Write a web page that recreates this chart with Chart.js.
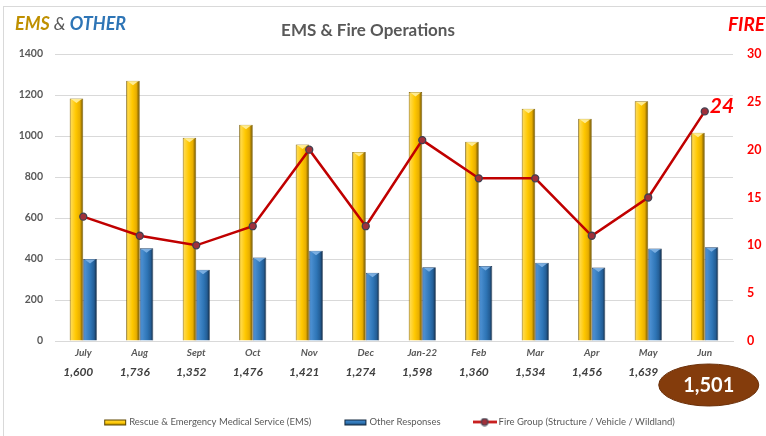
<!DOCTYPE html>
<html><head><meta charset="utf-8">
<script src="https://cdn.jsdelivr.net/npm/chart.js@4"></script>
<style>html,body{margin:0;padding:0;background:#fff;overflow:hidden}#wrap{width:766px;height:436px;position:relative}</style>
</head><body><div id="wrap"><canvas id="c" width="766" height="436"></canvas></div>
<script>
const months = ['July','Aug','Sept','Oct','Nov','Dec','Jan-22','Feb','Mar','Apr','May','Jun'];
const emsValues = [1183,1270,992,1055,959,922,1215,972,1133,1084,1170,1016];
const otherValues = [400,452,348,407,440,333,360,366,382,358,451,457];
const fireValues = [13,11,10,12,20,12,21,17,17,11,15,24];
const totalLabels = ['1,600','1,736','1,352','1,476','1,421','1,274','1,598','1,360','1,534','1,456','1,639','1,501'];
const seriesNames = ['Rescue & Emergency Medical Service (EMS)','Other Responses','Fire Group (Structure / Vehicle / Wildland)'];
const highlightTotal = '1,501';
const highlightFire = '24';

const FONT = 'Lato, "Open Sans", sans-serif';
const goldStops = [[0,'#B88A00'],[0.12,'#FFD94A'],[0.45,'#FFC800'],[0.75,'#E8AE00'],[1,'#5E4700']];
const blueStops = [[0,'#3A78B8'],[0.15,'#4A8ED0'],[0.55,'#2E75B6'],[0.8,'#245E96'],[1,'#13283F']];
const CAT_PCT = 0.48;

function barGrad(ctx, isEms, stops) {
  const chart = ctx.chart, xs = chart.scales.x;
  if (!xs || ctx.dataIndex == null || !isFinite(xs.width)) return stops[2][1];
  const c = xs.getPixelForValue(ctx.dataIndex);
  const w = xs.width / months.length * CAT_PCT / 2;
  const x0 = isEms ? c - w : c;
  const g = chart.ctx.createLinearGradient(x0, 0, x0 + w, 0);
  stops.forEach(s => g.addColorStop(s[0], s[1]));
  return g;
}

function makeIcon(kind) {
  const cv = document.createElement('canvas');
  cv.width = 24; cv.height = 9;
  const c = cv.getContext('2d');
  if (kind === 'line') {
    c.strokeStyle = '#C00000'; c.lineWidth = 2.5;
    c.beginPath(); c.moveTo(0, 4.5); c.lineTo(24, 4.5); c.stroke();
    c.fillStyle = '#A0303A'; c.strokeStyle = '#404050'; c.lineWidth = 1.2;
    c.beginPath(); c.arc(12, 4.5, 3.3, 0, Math.PI * 2); c.fill(); c.stroke();
  } else {
    const stops = kind === 'ems' ? goldStops : blueStops;
    const g = c.createLinearGradient(0, 2, 0, 8);
    g.addColorStop(0, stops[1][1]); g.addColorStop(0.6, stops[2][1]); g.addColorStop(1, stops[4][1]);
    c.fillStyle = g; c.fillRect(1, 2, 22, 6);
    c.strokeStyle = stops[4][1]; c.lineWidth = 1; c.strokeRect(1.5, 2.5, 21, 5);
  }
  return cv;
}

const extras = {
  id: 'extras',
  afterDatasetsDraw(chart) {
    const ctx = chart.ctx;
    [0, 1].forEach(di => {
      const meta = chart.getDatasetMeta(di);
      meta.data.forEach(el => {
        const hw = el.width / 2;
        ctx.save();
        ctx.fillStyle = di === 0 ? 'rgba(255,240,160,0.9)' : 'rgba(130,180,230,0.9)';
        ctx.beginPath();
        ctx.moveTo(el.x - hw + 1.5, el.y + 0.5);
        ctx.lineTo(el.x + hw - 1.5, el.y + 0.5);
        ctx.lineTo(el.x, el.y + 4.5);
        ctx.closePath(); ctx.fill();
        ctx.restore();
      });
    });
  },
  afterDraw(chart) {
    const ctx = chart.ctx;
    ctx.save();
    ctx.strokeStyle = '#d9d9d9'; ctx.lineWidth = 1;
    ctx.strokeRect(3.5, 6.5, 800, 500);
    ctx.textBaseline = 'middle';
    ctx.font = 'bold 17px ' + FONT; ctx.fillStyle = '#595959'; ctx.textAlign = 'center';
    ctx.fillText('EMS & Fire Operations', 368, 31);
    ctx.textAlign = 'left';
    ctx.font = 'italic bold 18px ' + FONT;
    let x = 15;
    ctx.fillStyle = '#BF9000'; ctx.fillText('EMS', x, 24); x += ctx.measureText('EMS ').width;
    ctx.font = 'italic 18px ' + FONT;
    ctx.fillStyle = '#595959'; ctx.fillText('&', x, 24); x += ctx.measureText('& ').width;
    ctx.font = 'italic bold 18px ' + FONT;
    ctx.fillStyle = '#2E75B6'; ctx.fillText('OTHER', x, 24);
    ctx.fillStyle = '#FF0000'; ctx.font = 'italic bold 19px ' + FONT;
    ctx.fillText('FIRE', 728, 25);
    const xs = chart.scales.x, y1 = chart.scales.y1;
    const li = fireValues.length - 1;
    const px = xs.getPixelForValue(li), py = y1.getPixelForValue(fireValues[li]);
    ctx.font = 'italic bold 21px ' + FONT;
    ctx.fillText(highlightFire, px + 5, py - 5);
    const ox = px + 4, oy = 385;
    ctx.fillStyle = '#843C0C';
    ctx.beginPath(); ctx.ellipse(ox, oy, 50, 21, 0, 0, Math.PI * 2); ctx.fill();
    ctx.strokeStyle = '#6b300a'; ctx.lineWidth = 1; ctx.stroke();
    ctx.fillStyle = '#ffffff'; ctx.textAlign = 'center';
    ctx.font = 'bold 20px ' + FONT;
    ctx.fillText(highlightTotal, ox, oy + 1);
    const icons = [makeIcon('ems'), makeIcon('other'), makeIcon('line')];
    ctx.font = '9.5px ' + FONT; ctx.textAlign = 'left';
    const gap = 32, iconW = 24, tgap = 2;
    const widths = chart.data.datasets.map(d => iconW + tgap + ctx.measureText(d.label).width);
    const total = widths.reduce((a, b) => a + b, 0) + gap * (widths.length - 1);
    let lx = 389 - total / 2;
    const ly = 422;
    chart.data.datasets.forEach((d, i) => {
      ctx.drawImage(icons[i], lx, ly - 4.5);
      ctx.fillStyle = '#595959';
      ctx.fillText(d.label, lx + iconW + tgap, ly);
      lx += widths[i] + gap;
    });
    ctx.restore();
  }
};

new Chart(document.getElementById('c'), {
  data: {
    labels: months,
    datasets: [
      { type: 'bar', label: seriesNames[0], data: emsValues, yAxisID: 'y', order: 1,
        backgroundColor: c => barGrad(c, true, goldStops), borderColor: '#7A5C00', borderWidth: 0.8 },
      { type: 'bar', label: seriesNames[1], data: otherValues, yAxisID: 'y', order: 1,
        backgroundColor: c => barGrad(c, false, blueStops), borderColor: '#1B3350', borderWidth: 0.8 },
      { type: 'line', label: seriesNames[2], data: fireValues, yAxisID: 'y1', order: 0,
        borderColor: '#C00000', borderWidth: 2.5, pointRadius: 3.5, pointBackgroundColor: '#A0303A',
        pointBorderColor: '#404050', pointBorderWidth: 1.3, tension: 0, fill: false }
    ]
  },
  options: {
    responsive: false, animation: false, devicePixelRatio: 1,
    layout: { padding: { top: 54, left: 0, right: 0, bottom: 0 } },
    datasets: { bar: { categoryPercentage: CAT_PCT, barPercentage: 1.0 } },
    plugins: { legend: { display: false }, tooltip: { enabled: false }, title: { display: false } },
    scales: {
      x: {
        type: 'category', offset: true,
        grid: { display: false, drawTicks: false },
        border: { display: true, color: '#d9d9d9' },
        ticks: { padding: 6, color: '#595959', font: { family: FONT, size: 10, style: 'italic', weight: 'bold' }, maxRotation: 0, autoSkip: false },
        afterFit: s => { s.height = 20; }
      },
      x2: {
        type: 'category', position: 'bottom', labels: totalLabels, offset: true,
        grid: { display: false, drawTicks: false }, border: { display: false },
        ticks: { padding: 4, labelOffset: -5, color: '#404040', font: { family: FONT, size: 12, style: 'italic', weight: 'bold' }, maxRotation: 0, autoSkip: false },
        afterFit: s => { s.height = 75; }
      },
      y: {
        position: 'left', min: 0, max: 1400,
        ticks: { stepSize: 200, padding: 12, color: '#595959', font: { family: FONT, size: 10.5, weight: 'bold' }, callback: v => String(v) },
        grid: { color: '#d9d9d9', drawTicks: false }, border: { display: false },
        afterFit: s => { s.width = 55; }
      },
      y1: {
        position: 'right', min: 0, max: 30,
        ticks: { stepSize: 5, padding: 14, color: '#FF0000', font: { family: FONT, size: 12.5, weight: 'bold' }, callback: v => String(v) },
        grid: { display: false, drawTicks: false }, border: { display: false },
        afterFit: s => { s.width = 33; }
      }
    }
  },
  plugins: [extras]
});
</script>
</body></html>
